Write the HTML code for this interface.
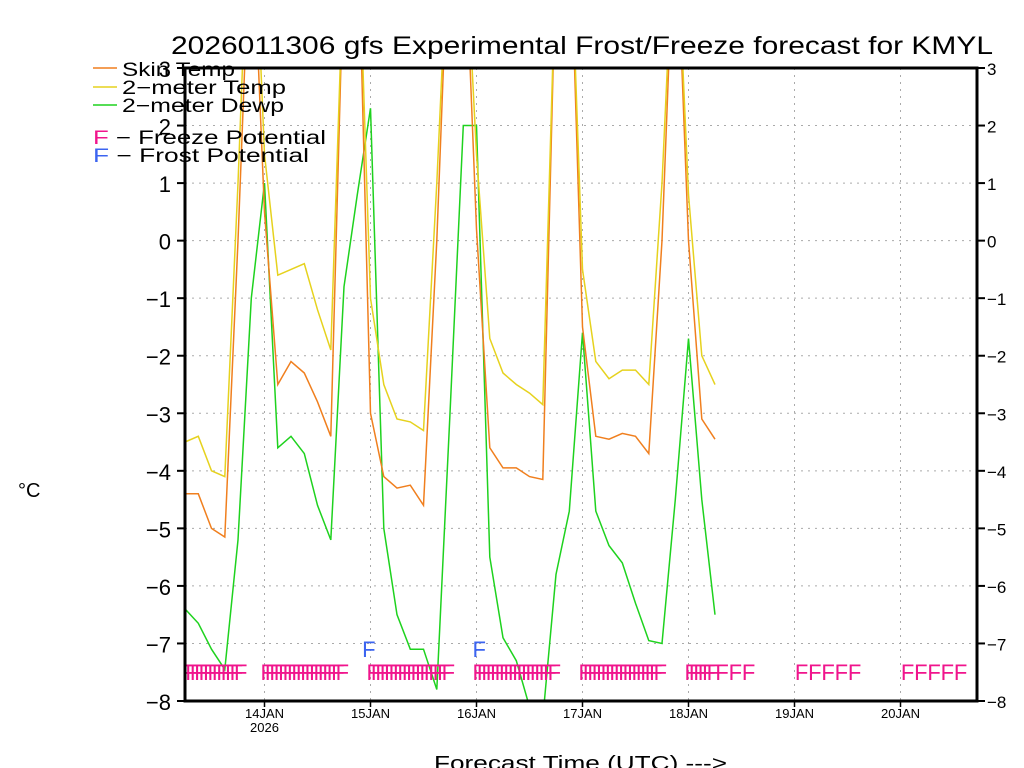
<!DOCTYPE html>
<html><head><meta charset="utf-8"><style>
body{margin:0;background:#fff;}
svg{display:block;font-family:"Liberation Sans",sans-serif;}
</style></head><body>
<svg id="chart" width="1024" height="768" viewBox="0 0 1024 768" xmlns="http://www.w3.org/2000/svg">
<text x="171" y="54" font-size="25" textLength="822" lengthAdjust="spacingAndGlyphs" fill="#000">2026011306 gfs Experimental Frost/Freeze forecast for KMYL</text>
<g id="grid"></g>
<g id="series"></g>
<g id="marks"></g>
<g id="axes"></g>
<g font-size="19">
<line x1="93" y1="68" x2="117" y2="68" stroke="#f07f1e" stroke-width="1.5"/>
<text x="122" y="76" textLength="113" lengthAdjust="spacingAndGlyphs">Skin Temp</text>
<line x1="93" y1="87" x2="117" y2="87" stroke="#e6d21e" stroke-width="1.5"/>
<text x="122" y="94" textLength="164" lengthAdjust="spacingAndGlyphs">2−meter Temp</text>
<line x1="93" y1="105" x2="117" y2="105" stroke="#1ed21e" stroke-width="1.5"/>
<text x="122" y="112" textLength="162" lengthAdjust="spacingAndGlyphs">2−meter Dewp</text>
<text x="93" y="144" textLength="233" lengthAdjust="spacingAndGlyphs"><tspan fill="#f0148c">F</tspan> − Freeze Potential</text>
<text x="93" y="162" textLength="216" lengthAdjust="spacingAndGlyphs"><tspan fill="#3c64f0">F</tspan> − Frost Potential</text>
</g>
<text x="18" y="497" font-size="20">°C</text>
<text x="434" y="770" font-size="20" textLength="293" lengthAdjust="spacingAndGlyphs">Forecast Time (UTC) ---&gt;</text>
</svg>
<script>
const hours=[0,3,6,9,12,15,18,21,24,27,30,33,36,39,42,45,48,51,54,57,60,63,66,69,72,75,78,81,84,87,90,93,96,99,102,105,108,111,114,117,120];
const skinTemp=[-4.4,-4.4,-5.0,-5.15,0,6,0.5,-2.5,-2.1,-2.3,-2.8,-3.4,5,6,-3.0,-4.1,-4.3,-4.25,-4.6,0,6,6,0.2,-3.6,-3.95,-3.95,-4.1,-4.15,5,6,-1.5,-3.4,-3.45,-3.35,-3.4,-3.7,0,6,0,-3.1,-3.45];
const twoMTemp=[-3.5,-3.4,-4.0,-4.1,1,7,1.5,-0.6,-0.5,-0.4,-1.2,-1.9,5,6,-1.0,-2.5,-3.1,-3.15,-3.3,1,6,6,1.5,-1.7,-2.3,-2.5,-2.65,-2.85,5,6,-0.5,-2.1,-2.4,-2.25,-2.25,-2.5,1,6,0.8,-2.0,-2.5];
const dewPoint=[-6.4,-6.65,-7.1,-7.45,-5.2,-1.0,1.0,-3.6,-3.4,-3.7,-4.6,-5.2,-0.8,0.8,2.3,-5.0,-6.5,-7.1,-7.1,-7.8,-3,2.0,2.0,-5.5,-6.9,-7.3,-8.1,-8.3,-5.8,-4.7,-1.6,-4.7,-5.3,-5.6,-6.3,-6.95,-7.0,-4.5,-1.7,-4.5,-6.5];
const freezeRanges=[[-1,12],[18,35],[42,59],[66,83],[90,107],[114,119]];
const freezeHours=[121,124,127,139,142,145,148,151,163,166,169,172,175];
const frostHours=[41,66];
const yTicks=[-8,-7,-6,-5,-4,-3,-2,-1,0,1,2,3];
const dayLabels=["14JAN","15JAN","16JAN","17JAN","18JAN","19JAN","20JAN"];
const dayHours=[18,42,66,90,114,138,162];

const X0=185,X1=977,Y0=701,Y1=68,YMIN=-8,YMAX=3,HPX=106/24;
const xs=h=>X0+h*HPX;
const ys=v=>Y0-(v-YMIN)*(Y0-Y1)/(YMAX-YMIN);
const NS="http://www.w3.org/2000/svg";
function mk(tag,attrs,parent){const e=document.createElementNS(NS,tag);for(const k in attrs)e.setAttribute(k,attrs[k]);parent.appendChild(e);return e;}
const grid=document.getElementById('grid'),axes=document.getElementById('axes'),series=document.getElementById('series'),marks=document.getElementById('marks');
mk('clipPath',{id:'clip'},document.getElementById('chart'));
mk('rect',{x:X0,y:Y1,width:X1-X0,height:Y0-Y1},document.getElementById('clip'));
yTicks.forEach(v=>{const y=ys(v);
 if(v>YMIN&&v<YMAX){const g=mk('line',{x1:X0,x2:X1,y1:y,y2:y,stroke:'#aaa','stroke-dasharray':'2,5'},grid);
 
 }
 const t1=mk('line',{x1:X0-8,x2:X0,y1:y,y2:y,stroke:'#000','stroke-width':2},axes);
 
 
 const t2=mk('line',{x1:X1,x2:X1+8,y1:y,y2:y,stroke:'#000','stroke-width':2},axes);
 
 
 const lab=(v<0?'−':'')+Math.abs(v);
 const l=mk('text',{x:X0-14,y:y+9,'font-size':22,'text-anchor':'end'},axes);l.textContent=lab;
 
 
 const r=mk('text',{x:X1+10,y:y+7,'font-size':17},axes);r.textContent=(v<0?'−':'')+Math.abs(v);
 
 
});
dayHours.forEach((h,i)=>{const x=xs(h);
 const g=mk('line',{x1:x,x2:x,y1:Y1,y2:Y0,stroke:'#aaa','stroke-dasharray':'2,5'},grid);
 
 
 const t=mk('line',{x1:x,x2:x,y1:Y0,y2:Y0+6,stroke:'#000','stroke-width':1.5},axes);
 
 
 const l=mk('text',{x:x,y:Y0+17,'font-size':13,'text-anchor':'middle'},axes);l.textContent=dayLabels[i];
 
 
});
const yr=mk('text',{x:xs(18),y:Y0+31,'font-size':13,'text-anchor':'middle'},axes);yr.textContent='2026';


const fr=mk('path',{d:`M${X0},${Y1}H${X1}V${Y0}H${X0}Z`,fill:'none',stroke:'#000','stroke-width':3},axes);


function line(vals,color,name){const d=vals.map((v,i)=>(i?'L':'M')+xs(hours[i]).toFixed(1)+','+ys(v).toFixed(1)).join('');
 const p=mk('path',{d:d,fill:'none',stroke:color,'stroke-width':1.5,'clip-path':'url(#clip)'},series);
 
 }
line(dewPoint,'#1ed21e','dewpoint-line');
line(skinTemp,'#f07f1e','skin-temp-line');
line(twoMTemp,'#e6d21e','2m-temp-line');
function fmark(h,color,name){const t=mk('text',{x:xs(h)-4,y:ys(-7.5)+8,'font-size':22,fill:color,'clip-path':'url(#clip)'},marks);t.textContent='F';
 
 }
freezeRanges.forEach(r=>{for(let h=r[0];h<=r[1];h++)fmark(h,'#f0148c','freeze-mark');});
freezeHours.forEach(h=>fmark(h,'#f0148c','freeze-mark'));
frostHours.forEach(h=>{const t=mk('text',{x:xs(h)-4,y:ys(-7.1)+8,'font-size':22,fill:'#3c64f0'},marks);t.textContent='F';
 
 });
</script>
</body></html>
